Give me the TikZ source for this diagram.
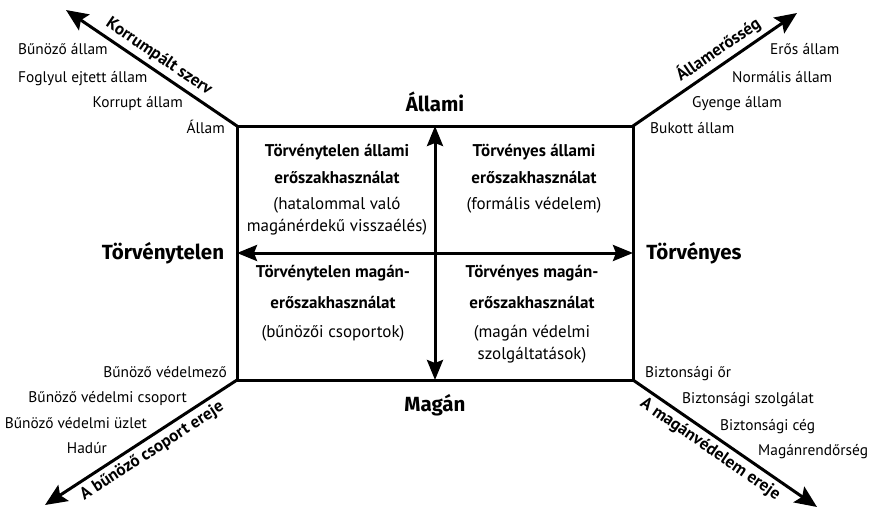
\documentclass[tikz,border=0pt]{standalone}
\usepackage{fontspec}
\setmainfont{PT Sans}
\newfontfamily\polefont{Fira Sans}
\usetikzlibrary{arrows.meta}

\tikzset{
  frame/.style={line width=3pt, line join=miter},
  axis/.style={line width=3pt, {Stealth[length=20pt,width=16pt,inset=3pt]}-{Stealth[length=20pt,width=16pt,inset=3pt]}},
  ray/.style={line width=3pt, -{Stealth[length=22pt,width=19pt,inset=4pt]}},
  pole/.style={font=\polefont\fontsize{20.5}{24}\selectfont\bfseries, inner sep=0pt},
  quad/.style={font=\fontsize{17}{22}\selectfont, align=center, inner sep=0pt},
  side/.style={font=\fontsize{15.4}{18}\selectfont, inner sep=0pt},
  raylabel/.style={font=\fontsize{17}{19}\selectfont\bfseries, inner sep=4pt, sloped},
}

\begin{document}
\begin{tikzpicture}[x=1pt, y=-1pt]
\useasboundingbox (0,0) rectangle (876,511);

% corners of the square and ends of the diagonal rays
\coordinate (tl) at (237,126);
\coordinate (tr) at (633,126);
\coordinate (br) at (633,380);
\coordinate (bl) at (237,380);
\coordinate (tlend) at (66,10);
\coordinate (trend) at (797,13);
\coordinate (blend) at (45,505);
\coordinate (brend) at (817,507);

% axis end points on the frame
\coordinate (ntop) at (435,126);
\coordinate (nbot) at (435,380);
\coordinate (wmid) at (237,253);
\coordinate (emid) at (633,253);

\draw[frame] (tl) rectangle (br);
\draw[axis] (nbot) -- (ntop);
\draw[axis] (wmid) -- (emid);

% diagonal rays with their titles
\draw[ray] (tl) -- (tlend) node[raylabel, pos=0.5, above] (r1) {Korrumpált szerv};
\draw[ray] (tr) -- (trend) node[raylabel, pos=0.57, above] (r2) {Államerősség};
\draw[ray] (bl) -- (blend) node[raylabel, pos=0.48, below] (r3) {A bűnöző csoport ereje};
\draw[ray] (br) -- (brend) node[raylabel, pos=0.46, below] (r4) {A magánvédelem ereje};

% pole labels
\node[pole] (allami) at (435,102) {Állami};
\node[pole] (magan) at (435,405) {Magán};
\node[pole] (torvtelen) at (163,253) {Törvénytelen};
\node[pole] (torvenyes) at (694,253) {Törvényes};

% quadrants
\node[quad, anchor=north] (q1) at (337,144) {\textbf{Törvénytelen állami}\\[5pt]\textbf{erőszakhasználat}\\[4pt](hatalommal való\\magánérdekű visszaélés)};
\node[quad, anchor=north] (q2) at (534,144) {\textbf{Törvényes állami}\\[5pt]\textbf{erőszakhasználat}\\[4pt](formális védelem)};
\node[quad, anchor=north] (q3) at (333,265) {\textbf{Törvénytelen magán-}\\[9pt]\textbf{erőszakhasználat}\\[7pt](bűnözői csoportok)};
\node[quad, anchor=north] (q4) at (532,265) {\textbf{Törvényes magán-}\\[9pt]\textbf{erőszakhasználat}\\[7pt](magán védelmi\\szolgáltatások)};

% labels along the upper left ray
\node[side, anchor=base west] (s1) at (18,55) {Bűnöző állam};
\node[side, anchor=base west] (s2) at (18,82) {Foglyul ejtett állam};
\node[side, anchor=base east] (s3) at (183,107) {Korrupt állam};
\node[side, anchor=base east] (s4) at (225,133) {Állam};

% labels along the upper right ray
\node[side, anchor=base west] (e1) at (770,55) {Erős állam};
\node[side, anchor=base west] (e2) at (732,82) {Normális állam};
\node[side, anchor=base west] (e3) at (692,107) {Gyenge állam};
\node[side, anchor=base west] (e4) at (650,133) {Bukott állam};

% labels along the lower left ray
\node[side, anchor=base east] (c1) at (227,377) {Bűnöző védelmező};
\node[side, anchor=base east] (c2) at (187,402) {Bűnöző védelmi csoport};
\node[side, anchor=base east] (c3) at (147,428) {Bűnöző védelmi üzlet};
\node[side, anchor=base east] (c4) at (107,453) {Hadúr};

% labels along the lower right ray
\node[side, anchor=base west] (p1) at (645,377) {Biztonsági őr};
\node[side, anchor=base west] (p2) at (682,403) {Biztonsági szolgálat};
\node[side, anchor=base west] (p3) at (720,430) {Biztonsági cég};
\node[side, anchor=base west] (p4) at (758,455) {Magánrendőrség};
\end{tikzpicture}
\end{document}
